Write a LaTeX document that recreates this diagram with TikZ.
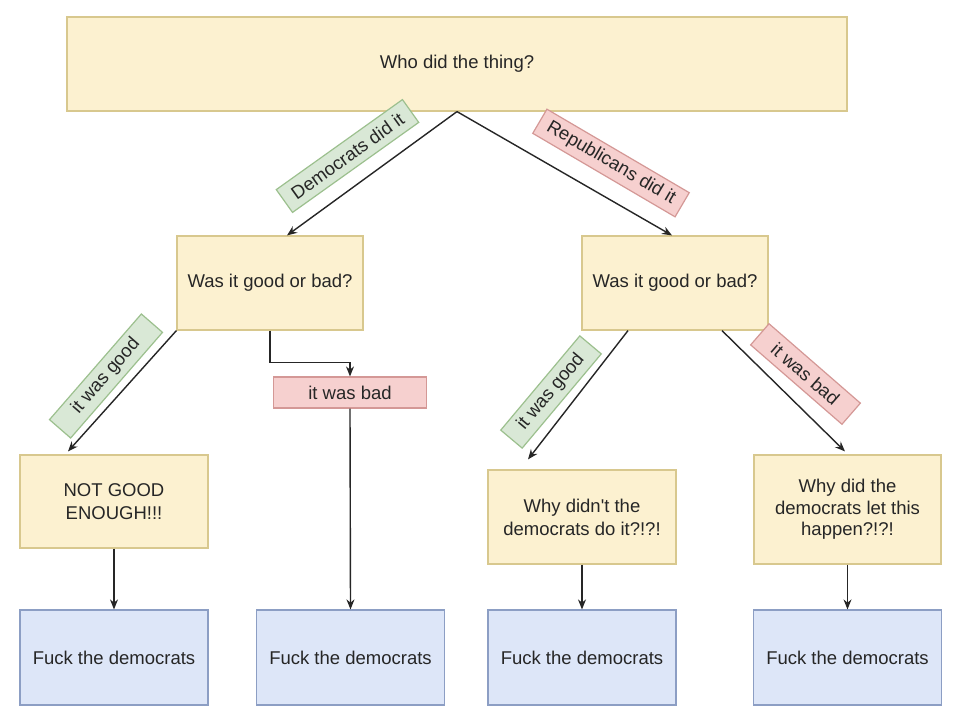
\documentclass[tikz,border=0pt]{standalone}
\usepackage{fontspec}
\setmainfont{Liberation Sans}
\usetikzlibrary{arrows.meta}
\definecolor{yfill}{HTML}{FCF1D0}
\definecolor{ydraw}{HTML}{D8C88E}
\definecolor{bfill}{HTML}{DDE6F8}
\definecolor{bdraw}{HTML}{8C9EC4}
\definecolor{gfill}{HTML}{D9E8D6}
\definecolor{gdraw}{HTML}{9CC08E}
\definecolor{rfill}{HTML}{F6D0CF}
\definecolor{rdraw}{HTML}{D49896}
\begin{document}
\begin{tikzpicture}[x=1pt,y=-1pt,
  every node/.style={font=\fontsize{18.5}{23}\selectfont, text=black!85, align=center},
  ybox/.style={draw=ydraw, fill=yfill, line width=1.2pt, rectangle, inner sep=0pt},
  bbox/.style={draw=bdraw, fill=bfill, line width=1.2pt, rectangle, inner sep=0pt, minimum width=188pt, minimum height=95pt},
  glab/.style={draw=gdraw, fill=gfill, line width=1.2pt, rectangle, inner sep=2pt, minimum height=28pt},
  rlab/.style={draw=rdraw, fill=rfill, line width=1.2pt, rectangle, inner sep=2pt, minimum height=28pt},
  arr/.style={draw=black!85, line width=1.4pt, -{Stealth[length=10pt,width=8pt]}}
]
\useasboundingbox[fill=white] (0,0) rectangle (954,721);

\node[ybox, minimum width=780pt, minimum height=94pt] (top) at (457,64) {Who did the thing?};
\node[ybox, minimum width=186pt, minimum height=94pt] (lm) at (270,283) {Was it good or bad?};
\node[ybox, minimum width=186pt, minimum height=94pt] (rm) at (675,283) {Was it good or bad?};
\node[ybox, minimum width=188pt, minimum height=93pt] (ng) at (114,501.5) {NOT GOOD\\ENOUGH!!!};
\node[ybox, minimum width=188pt, minimum height=94pt] (wdt) at (582,517) {Why didn\textquotesingle t the\\democrats do it?!?!};
\node[ybox, minimum width=187pt, minimum height=109pt, font=\fontsize{18.5}{21.5}\selectfont] (wd) at (847.5,509.5) {Why did the\\democrats let this\\happen?!?!};

\node[bbox] (b1) at (114,657.5) {Fuck the democrats};
\node[bbox] (b2) at (350.5,657.5) {Fuck the democrats};
\node[bbox] (b3) at (582,657.5) {Fuck the democrats};
\node[bbox] (b4) at (847.5,657.5) {Fuck the democrats};

\node[rlab, minimum width=153pt, minimum height=31pt] (bad) at (350,392.5) {it was bad};

% connectors
\draw[arr] (top.south) -- ([xshift=17pt]lm.north);
\draw[arr] (top.south) -- ([xshift=-3pt]rm.north);
\draw[arr] (lm.south west) -- ([xshift=-46pt,yshift=3pt]ng.north);
\draw[arr] (lm.south) -- ++(0,32) -| (bad.north);
\draw[arr] (bad.south) -- (b2.north);
\draw[arr] ([xshift=-47pt]rm.south) -- ([xshift=-54pt,yshift=10pt]wdt.north);
\draw[arr] ([xshift=47pt]rm.south) -- ([xshift=-2.5pt,yshift=3pt]wd.north);
\draw[arr] (ng.south) -- (b1.north);
\draw[arr] (wdt.south) -- (b3.north);
\draw[arr] (wd.south) -- (b4.north);

% edge labels
\node[glab, rotate=35.5, minimum width=155pt] (l1) at (347.5,156) {Democrats did it};
\node[rlab, rotate=-30.4, minimum width=165pt] (l2) at (611,163) {Republicans did it};
\node[glab, rotate=49, minimum width=140pt] (l3) at (106,376) {it was good};
\node[glab, rotate=50, minimum width=123pt] (l4) at (551,392) {it was good};
\node[rlab, rotate=-41, minimum width=121pt] (l5) at (805.5,374) {it was bad};
\end{tikzpicture}
\end{document}
